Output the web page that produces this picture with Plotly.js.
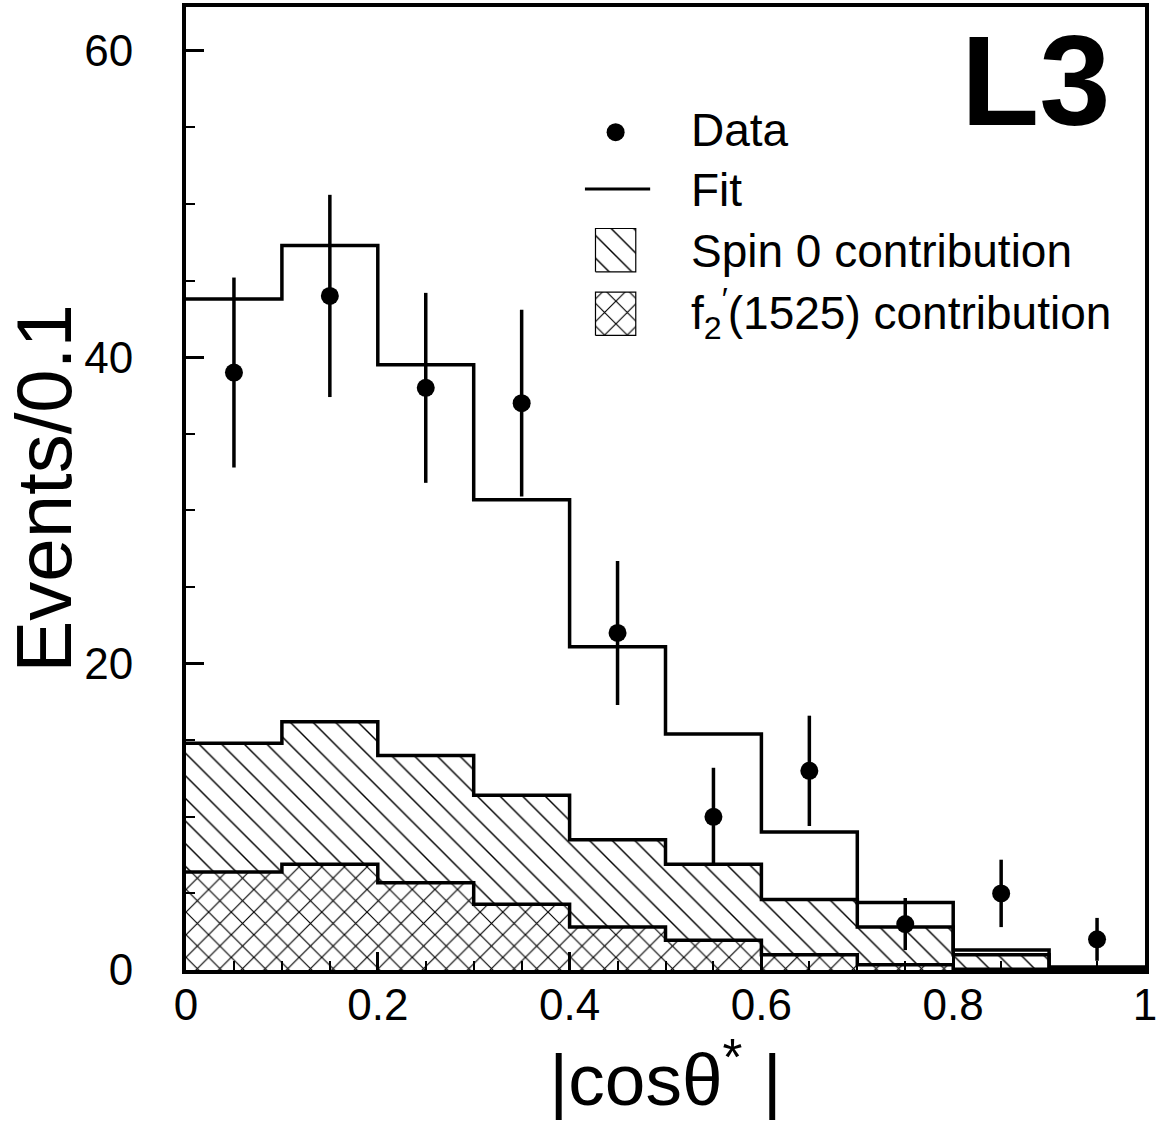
<!DOCTYPE html>
<html>
<head>
<meta charset="utf-8">
<script src="https://cdn.plot.ly/plotly-3.0.1.min.js"></script>
<style>html,body{margin:0;padding:0;background:#fff;}#chart{width:1157px;height:1122px;}</style>
</head>
<body>
<div id="chart"></div>
<script>
// ---- data ----
const binEdges   = [0, 0.1, 0.2, 0.3, 0.4, 0.5, 0.6, 0.7, 0.8, 0.9, 1.0];
const binCenters = [0.05, 0.15, 0.25, 0.35, 0.45, 0.55, 0.65, 0.75, 0.85, 0.95];
const dataCounts = [39, 44, 38, 37, 22, 10, 13, 3, 5, 2];
const dataErrors = [6.2, 6.6, 6.2, 6.1, 4.7, 3.2, 3.6, 1.7, 2.2, 1.4];
const fitValues  = [43.8, 47.3, 39.5, 30.7, 21.1, 15.4, 9.0, 4.4, 1.3, 0.2];
const spin0Values = [14.8, 16.2, 14.0, 11.4, 8.5, 6.9, 4.6, 2.8, 1.0, 0.15];
const f2Values   = [6.4, 6.9, 5.7, 4.3, 2.8, 1.95, 1.0, 0.35, 0.05, 0.02];
const xTickVals  = [0, 0.2, 0.4, 0.6, 0.8, 1];
const yTickVals  = [0, 20, 40, 60];
const legendLabels = ['Data', 'Fit', 'Spin 0 contribution', 'f<sub>2</sub><sup>\u2032</sup>(1525) contribution'];

// step (histogram) helper: values repeated on the last edge for 'hv' lines
function stepY(vals) { return vals.concat([vals[vals.length - 1]]); }

const FONT = 'Liberation Sans, Arial, Helvetica, sans-serif';
const hatch = {shape: '\\', size: 16, solidity: 0.09, fgcolor: 'black', bgcolor: 'white'};
const cross = {shape: 'x', size: 16, solidity: 0.14, fgcolor: 'black', bgcolor: 'white'};

const traces = [
  { // spin 0 contribution
    x: binEdges, y: stepY(spin0Values), type: 'scatter', mode: 'lines',
    line: {shape: 'hv', color: 'black', width: 3.5}, fill: 'tozeroy',
    fillcolor: 'white', fillpattern: hatch, showlegend: false, hoverinfo: 'skip'
  },
  { // f2'(1525) contribution
    x: binEdges, y: stepY(f2Values), type: 'scatter', mode: 'lines',
    line: {shape: 'hv', color: 'black', width: 3.5}, fill: 'tozeroy',
    fillcolor: 'white', fillpattern: cross, showlegend: false, hoverinfo: 'skip'
  },
  { // fit
    x: binEdges, y: stepY(fitValues), type: 'scatter', mode: 'lines',
    line: {shape: 'hv', color: 'black', width: 3.5}, showlegend: false
  },
  { // data
    x: binCenters, y: dataCounts, type: 'scatter', mode: 'markers',
    marker: {color: 'black', size: 18},
    error_y: {type: 'data', array: dataErrors, visible: true, color: 'black', thickness: 3.5, width: 0},
    showlegend: false
  }
];

// ---- hand-drawn key (plot-area fractions) ----
const KEY = {
  markerX: 0.448, markerY: 0.870,
  lineX: [0.416, 0.484], lineY: 0.811,
  boxX: [0.427, 0.469],
  box1Y: [0.725, 0.770],
  box2Y: [0.659, 0.704],
  textX: 0.524,
  textY: [0.872, 0.810, 0.747, 0.682]
};
function boxTrace(yr, pat) {
  return {
    x: [KEY.boxX[0], KEY.boxX[1], KEY.boxX[1], KEY.boxX[0], KEY.boxX[0]],
    y: [yr[0], yr[0], yr[1], yr[1], yr[0]],
    xaxis: 'x2', yaxis: 'y2', type: 'scatter', mode: 'lines', fill: 'toself',
    fillcolor: 'white', fillpattern: pat, line: {color: 'black', width: 1.2},
    showlegend: false, hoverinfo: 'skip'
  };
}
traces.push({x: [KEY.markerX], y: [KEY.markerY], xaxis: 'x2', yaxis: 'y2', type: 'scatter',
  mode: 'markers', marker: {color: 'black', size: 18}, showlegend: false, hoverinfo: 'skip'});
traces.push({x: KEY.lineX, y: [KEY.lineY, KEY.lineY], xaxis: 'x2', yaxis: 'y2', type: 'scatter',
  mode: 'lines', line: {color: 'black', width: 3}, showlegend: false, hoverinfo: 'skip'});
traces.push(boxTrace(KEY.box1Y, hatch));
traces.push(boxTrace(KEY.box2Y, cross));

const annotations = legendLabels.map((t, i) => ({
  text: t, xref: 'paper', yref: 'paper', x: KEY.textX, y: KEY.textY[i],
  xanchor: 'left', yanchor: 'middle', showarrow: false,
  font: {family: FONT, size: 46, color: 'black'}
}));
annotations.push({
  text: '<b>L3</b>', xref: 'paper', yref: 'paper', x: 0.886, y: 0.924,
  xanchor: 'center', yanchor: 'middle', showarrow: false,
  font: {family: FONT, size: 128, color: 'black'}
});

const layout = {
  width: 1157, height: 1122,
  margin: {l: 186, r: 12, t: 7, b: 152},
  paper_bgcolor: 'white', plot_bgcolor: 'white',
  font: {family: FONT, color: 'black'},
  showlegend: false,
  xaxis: {
    range: [0, 1], tickvals: xTickVals, ticks: 'inside', ticklen: 18, tickwidth: 3, tickcolor: 'black',
    minor: {dtick: 0.05, tick0: 0, ticks: 'inside', ticklen: 9, tickwidth: 2, tickcolor: 'black', showgrid: false},
    showline: true, linewidth: 4, linecolor: 'black', mirror: true,
    showgrid: false, zeroline: false, ticklabelstandoff: -7, ticklabeloverflow: 'allow',
    tickfont: {family: FONT, size: 44, color: 'black'},
    title: {text: '|cos\u03b8<sup>*</sup> |', font: {family: FONT, size: 73, color: 'black'}, standoff: 18}
  },
  yaxis: {
    range: [0, 62.86], tickvals: yTickVals, ticks: 'inside', ticklen: 18, tickwidth: 3, tickcolor: 'black',
    minor: {dtick: 5, tick0: 0, ticks: 'inside', ticklen: 9, tickwidth: 2, tickcolor: 'black', showgrid: false},
    showline: true, linewidth: 4, linecolor: 'black', mirror: true,
    showgrid: false, zeroline: false, ticklabelstandoff: 40,
    tickfont: {family: FONT, size: 44, color: 'black'},
    title: {text: 'Events/0.1', font: {family: FONT, size: 78, color: 'black'}, standoff: 4}
  },
  xaxis2: {range: [0, 1], overlaying: 'x', anchor: 'y2', visible: false, fixedrange: true},
  yaxis2: {range: [0, 1], overlaying: 'y', anchor: 'x2', visible: false, fixedrange: true},
  annotations: annotations
};

Plotly.newPlot('chart', traces, layout, {staticPlot: true, displayModeBar: false});
</script>
</body>
</html>
